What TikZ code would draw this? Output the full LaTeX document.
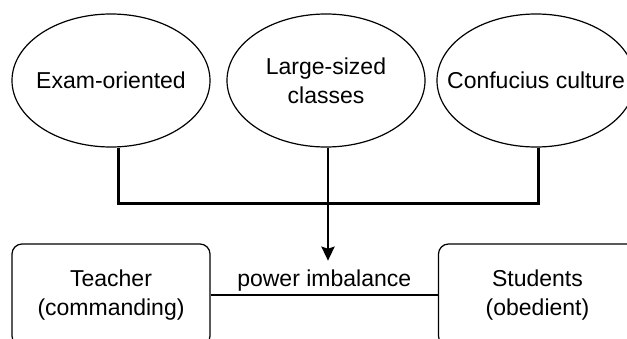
\documentclass[tikz,border=0pt]{standalone}
\usepackage{fontspec}
\setmainfont{Liberation Sans}
\usetikzlibrary{shapes.geometric,arrows.meta}

\tikzset{
  cause/.style={draw, ellipse, line width=1.2pt, minimum width=198pt, minimum height=133pt, inner xsep=-30pt, inner ysep=0pt, align=center},
  party/.style={draw, rounded corners=10pt, line width=1.2pt, minimum width=198pt, minimum height=102pt, align=center},
}

\begin{document}
\begin{tikzpicture}[x=1pt, y=-1pt, font=\fontsize{23}{29}\selectfont]

\useasboundingbox (0,0) rectangle (627,338);
\clip (0,0) rectangle (627,338);

% The causes
\node[cause] (exam) at (111,80.5) {Exam-oriented};
\node[cause] (large) at (326,80.5) {Large-sized\\classes};
\node[cause] (conf) at (536,80.5) {Confucius culture};

% The two sides
\node[party] (teacher) at (111,295) {Teacher\\(commanding)};
\node[party] (students) at (537.5,295) {Students\\(obedient)};

% The relation
\draw[line width=1.2pt] (teacher) -- node[above] (pwr) {power imbalance} (students);

% Joining the causes
\coordinate (hub) at (328,203);
\draw[line width=3pt] ([xshift=7pt]exam.south) |- (hub) -| ([xshift=2pt]conf.south);
\draw[line width=1.2pt] ([xshift=2pt]large.south) |- (hub);

% Arrow
\draw[line width=2.6pt, -{Stealth[length=14pt, width=13pt, inset=2pt]}, shorten >=5pt] (hub) -- (hub |- pwr.north);

\end{tikzpicture}
\end{document}
